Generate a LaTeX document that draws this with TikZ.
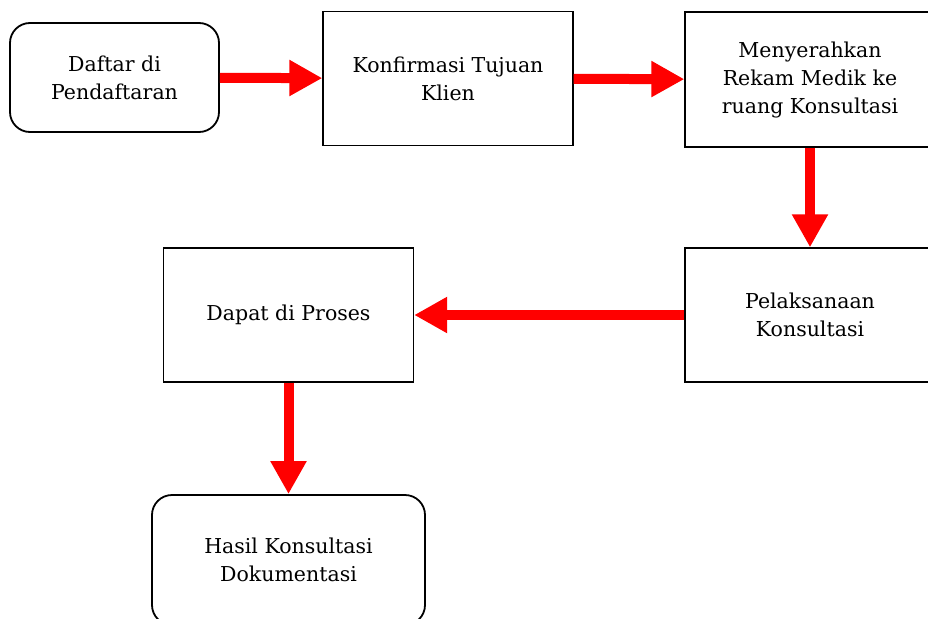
\documentclass[tikz,border=0pt]{standalone}
\usepackage{fontspec}
\setmainfont{DejaVu Serif}
\usetikzlibrary{arrows.meta}

\tikzstyle{box}=[draw,line width=1.3pt,minimum width=250pt,minimum height=134pt,align=center,font=\fontsize{20.5}{28}\selectfont]
\tikzstyle{rbox}=[box,line width=1.8pt,rounded corners=20pt]
\tikzstyle{flow}=[red,line width=10pt,-{Triangle[length=33pt,width=34pt]}]

\begin{document}
\begin{tikzpicture}[x=1pt,y=-1pt]
          \useasboundingbox (0,0) rectangle (928,618);
          \clip (0,0) rectangle (928,618);

          \node (daftar) at (114.5,77.5) [rbox,minimum width=209pt,minimum height=109pt] {Daftar di\\Pendaftaran};
          \node (konfirmasi) at (448,78.5) [box] {Konfirmasi Tujuan\\Klien};
          \node (rekam) at (810,79.5) [box,minimum height=135pt] {Menyerahkan\\Rekam Medik ke\\ruang Konsultasi};
          \node (pelaksanaan) at (810,315) [box] {Pelaksanaan\\Konsultasi};
          \node (proses) at (288.5,315) [box] {Dapat di Proses};
          \node (hasil) at (288.5,560) [rbox,minimum width=273pt,minimum height=130pt] {Hasil Konsultasi\\Dokumentasi};

          \draw[flow] (daftar) -- (konfirmasi);
          \draw[flow] (konfirmasi) -- (rekam);
          \draw[flow] (rekam) -- (pelaksanaan);
          \draw[flow] (pelaksanaan) -- (proses);
          \draw[flow] (proses) -- (hasil);
        \end{tikzpicture}
\end{document}
